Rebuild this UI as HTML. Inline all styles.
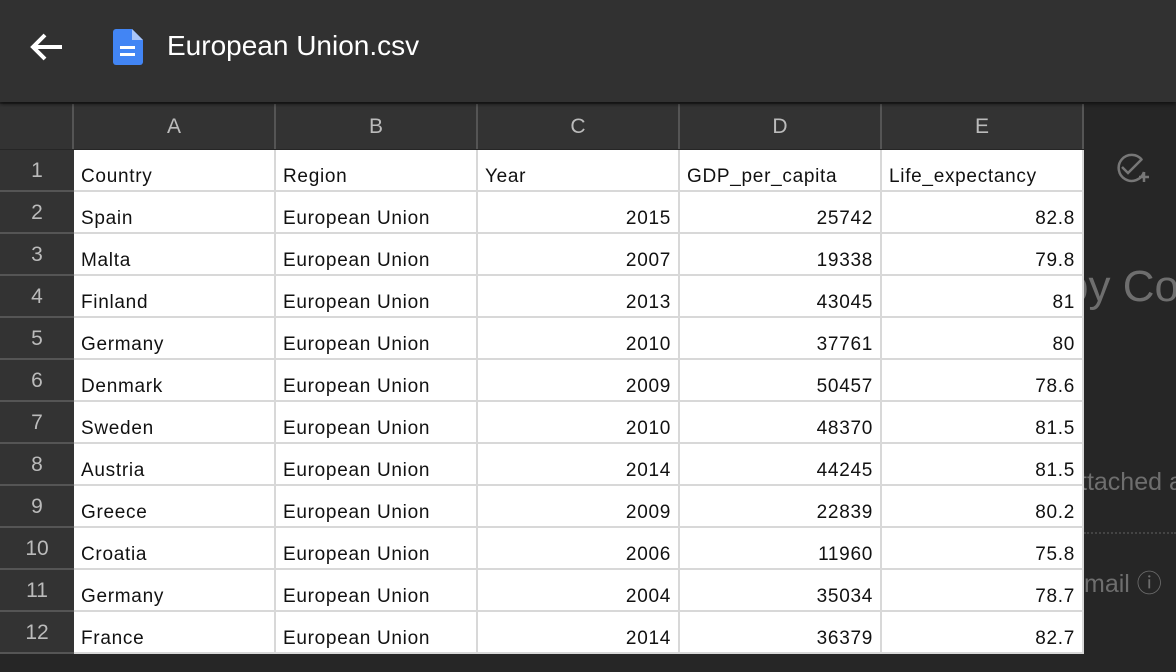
<!DOCTYPE html>
<html><head><meta charset="utf-8"><style>
body{margin:0;width:1176px;height:672px;overflow:hidden;background:#262626;font-family:"Liberation Sans",Arial,sans-serif;position:relative}
.top{position:absolute;left:0;top:0;width:1176px;height:102px;background:#313131;box-shadow:0 2px 4px rgba(0,0,0,.6);z-index:2}
.title{position:absolute;left:167px;top:30px;color:#fff;font-size:28px}
.bg{position:absolute;font-size:32px;color:#6e6e6e;white-space:nowrap}
.ch{position:absolute;top:104px;height:45px;background:#333;color:#bbb;font-size:21px;text-align:center;line-height:45px;border-right:2px solid #555;box-sizing:border-box}
.rh{position:absolute;left:0;width:74px;height:42px;background:#333;color:#bbb;font-size:21px;text-align:center;line-height:42px;border-bottom:2px solid #555;box-sizing:border-box}
.cell{position:absolute;height:42px;background:#fff;border-right:2px solid #d8d8d8;border-bottom:2px solid #d8d8d8;box-sizing:border-box;font-size:19px;color:#111;line-height:54px;padding:0 7px;letter-spacing:0.7px;white-space:nowrap;overflow:hidden}
.r{text-align:right}
</style></head><body>
<div class="top">
<svg style="position:absolute;left:28px;top:30px" width="38" height="34" viewBox="0 0 38 34"><path d="M34 17H6M17 5L5 17l12 12" stroke="#fff" stroke-width="4" fill="none"/></svg>
<svg style="position:absolute;left:113px;top:29px" width="30" height="36" viewBox="0 0 30 36"><path d="M3 0h16l11 11v22a3 3 0 0 1-3 3H3a3 3 0 0 1-3-3V3a3 3 0 0 1 3-3z" fill="#4285f4"/><path d="M19 0v11h11z" fill="#a9c6fa"/><rect x="7" y="17" width="15" height="3" fill="#fff"/><rect x="7" y="24" width="15" height="3" fill="#fff"/></svg>
<div class="title">European Union.csv</div>
</div>
<svg style="position:absolute;left:1114px;top:150px" width="38" height="36" viewBox="0 0 38 36"><path d="M28 10A13 13 0 1 0 30 22" stroke="#777" stroke-width="2.5" fill="none"/><path d="M8 17l6 6 14-14" stroke="#777" stroke-width="2.5" fill="none"/><path d="M30 22v10M25 27h10" stroke="#777" stroke-width="2.5"/></svg>
<div class="bg" style="left:1064px;top:262px;font-size:44px">py Co</div>
<div class="bg" style="left:1080px;top:468px;font-size:25px">ttached a</div>
<div style="position:absolute;left:1084px;top:532px;width:92px;border-top:2px dotted #444"></div>
<div class="bg" style="left:1084px;top:564px;font-size:25px">mail ⓘ</div>
<div id="grid"></div>
<script>
const cols=['A','B','C','D','E'];
const rows=[
['Country','Region','Year','GDP_per_capita','Life_expectancy'],
['Spain','European Union','2015','25742','82.8'],
['Malta','European Union','2007','19338','79.8'],
['Finland','European Union','2013','43045','81'],
['Germany','European Union','2010','37761','80'],
['Denmark','European Union','2009','50457','78.6'],
['Sweden','European Union','2010','48370','81.5'],
['Austria','European Union','2014','44245','81.5'],
['Greece','European Union','2009','22839','80.2'],
['Croatia','European Union','2006','11960','75.8'],
['Germany','European Union','2004','35034','78.7'],
['France','European Union','2014','36379','82.7']];
const g=document.getElementById('grid');
const corner=document.createElement('div');
corner.className='ch';corner.style.left='0px';corner.style.width='74px';


g.appendChild(corner);
cols.forEach((c,i)=>{const d=document.createElement('div');d.className='ch';d.style.left=(74+i*202)+'px';d.style.width='202px';d.textContent=c;


g.appendChild(d);});
rows.forEach((r,ri)=>{const y=150+ri*42;
const h=document.createElement('div');h.className='rh';h.style.top=y+'px';h.textContent=ri+1;


g.appendChild(h);
r.forEach((v,ci)=>{const d=document.createElement('div');d.className='cell'+(ri>0&&ci>=2?' r':'');d.style.left=(74+ci*202)+'px';d.style.top=y+'px';d.style.width='202px';d.textContent=v;


g.appendChild(d);});});
</script>
</body></html>
